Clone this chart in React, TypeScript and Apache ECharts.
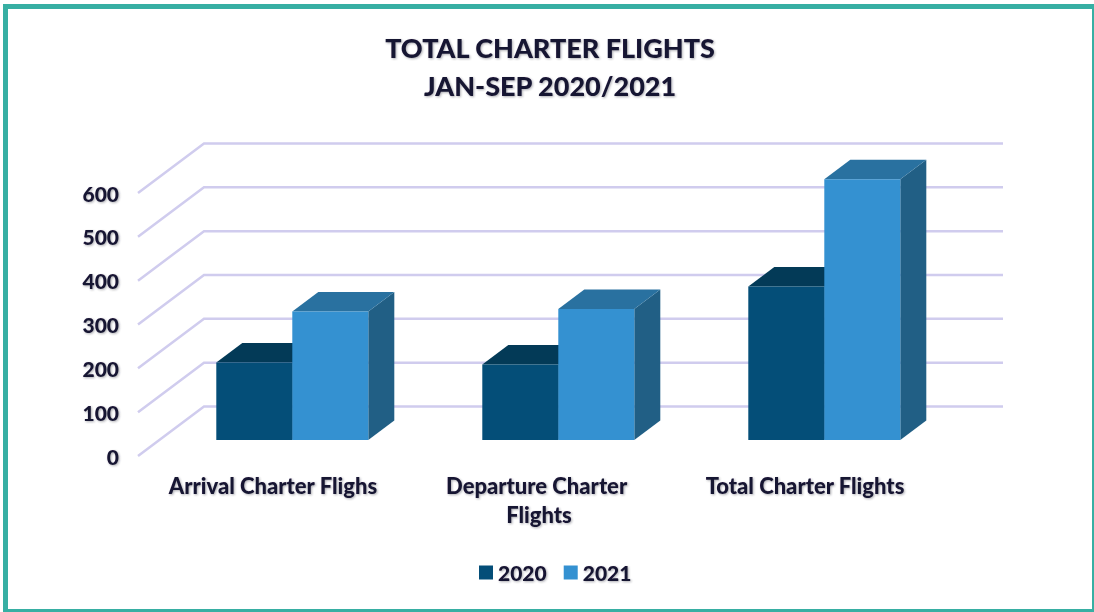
import React, { useEffect, useRef } from "react";
import * as echarts from "echarts";

const categories = ["Arrival Charter Flighs", "Departure Charter Flights", "Total Charter Flights"];
const values2020 = [177, 172, 350];
const values2021 = [293, 299, 595];
const yTicks = [0, 100, 200, 300, 400, 500, 600];

const INK = "#171233";
const FONT = "Lato";
const WALL_DX = 66;
const WALL_DY = -49.5;
const BAR_DX = 21.3;
const BAR_DY = -16;
const DEPTH_DX = 26;
const DEPTH_DY = -19.5;
const BAR_FRACTION = 76 / 266;

const shadow = { textShadowColor: "rgba(50,50,60,0.4)", textShadowBlur: 2, textShadowOffsetX: 1, textShadowOffsetY: 1 };

function barRenderer(side: number, front: string, top: string, face: string) {
  return (params: any, api: any) => {
    const cat = api.value(0);
    const val = api.value(1);
    const t = api.coord([cat, val]);
    const b = api.coord([cat, 0]);
    const w = api.size([1, 0])[0] * BAR_FRACTION;
    const x0 = t[0] + BAR_DX + (side < 0 ? -w : 0);
    const x1 = x0 + w;
    const yT = t[1] + BAR_DY;
    const yB = b[1] + BAR_DY;
    return {
      type: "group",
      children: [
        {
          type: "polygon",
          shape: { points: [[x1, yT], [x1 + DEPTH_DX, yT + DEPTH_DY], [x1 + DEPTH_DX, yB + DEPTH_DY], [x1, yB]] },
          style: { fill: face },
        },
        {
          type: "polygon",
          shape: { points: [[x0, yT], [x0 + DEPTH_DX, yT + DEPTH_DY], [x1 + DEPTH_DX, yT + DEPTH_DY], [x1, yT]] },
          style: { fill: top },
        },
        {
          type: "polygon",
          shape: { points: [[x0, yT], [x1, yT], [x1, yB], [x0, yB]] },
          style: { fill: front },
        },
      ],
    };
  };
}

export default function App() {
  const ref = useRef<HTMLDivElement>(null);
  useEffect(() => {
    const chart = echarts.init(ref.current!, undefined, { renderer: "svg" });
    chart.setOption({
      animation: false,
      backgroundColor: "#ffffff",
      textStyle: { fontFamily: FONT },
      title: {
        text: "TOTAL CHARTER FLIGHTS\nJAN-SEP 2020/2021",
        left: 545,
        top: 23,
        textAlign: "center",
        textStyle: { fontFamily: FONT, fontWeight: 900, fontSize: 27, lineHeight: 38, color: INK, ...shadow },
      },
      legend: {
        data: ["2020", "2021"],
        left: 474,
        top: 557,
        icon: "rect",
        itemWidth: 14,
        itemHeight: 14,
        itemGap: 17,
        textStyle: { fontFamily: FONT, fontWeight: 900, fontSize: 21, color: INK, ...shadow },
      },
      grid: { left: 138, top: 193, width: 798, height: 263 },
      xAxis: {
        type: "category",
        data: categories,
        axisLine: { show: false },
        axisTick: { show: false },
        axisLabel: {
          interval: 0,
          margin: 15,
          width: 225,
          overflow: "break",
          lineHeight: 29,
          padding: [0, 0, 0, 4],
          fontFamily: FONT,
          fontWeight: 900,
          fontSize: 22,
          color: INK,
          ...shadow,
        },
      },
      yAxis: {
        type: "value",
        min: 0,
        max: 600,
        interval: 100,
        axisLine: { show: false },
        axisTick: { show: false },
        splitLine: { show: false },
        axisLabel: {
          margin: 19,
          fontFamily: FONT,
          fontWeight: 900,
          fontSize: 21,
          color: INK,
          ...shadow,
        },
      },
      series: [
        {
          type: "custom",
          name: "walls",
          silent: true,
          z: 1,
          data: yTicks.map((t) => [0, t]),
          encode: { x: 0, y: 1 },
          renderItem: (params: any, api: any) => {
            const p = api.coord([0, api.value(1)]);
            const cs = params.coordSys;
            return {
              type: "polyline",
              shape: {
                points: [
                  [cs.x, p[1]],
                  [cs.x + WALL_DX, p[1] + WALL_DY],
                  [cs.x + cs.width + WALL_DX + 1, p[1] + WALL_DY],
                ],
              },
              style: { stroke: "#d0ccee", lineWidth: 2.5, fill: "none" },
            };
          },
        },
        {
          type: "custom",
          name: "2020",
          z: 2,
          itemStyle: { color: "#044e78" },
          data: values2020.map((v, i) => [i, v]),
          encode: { x: 0, y: 1 },
          renderItem: barRenderer(-1, "#044e78", "#033a57", "#033a57"),
        },
        {
          type: "custom",
          name: "2021",
          z: 3,
          itemStyle: { color: "#3491d1" },
          data: values2021.map((v, i) => [i, v]),
          encode: { x: 0, y: 1 },
          renderItem: barRenderer(1, "#3491d1", "#2971a0", "#215f85"),
        },
      ],
      graphic: [
        {
          type: "rect",
          silent: true,
          z: 100,
          shape: { x: 5.5, y: 6.5, width: 1089, height: 605 },
          style: { fill: "none", stroke: "#37afa3", lineWidth: 5 },
        },
      ],
    });
    return () => chart.dispose();
  }, []);
  return <div ref={ref} style={{ position: "fixed", left: 0, top: 0, width: 1094, height: 612 }} />;
}
